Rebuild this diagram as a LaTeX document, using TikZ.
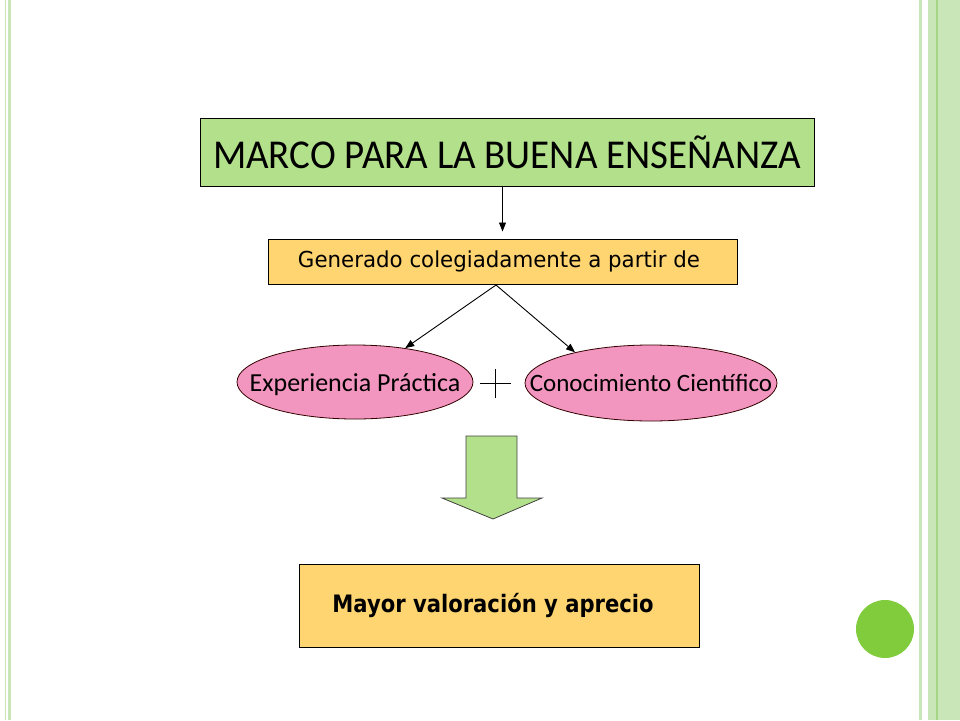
\documentclass[tikz,border=0pt]{standalone}
\usepackage{fontspec}
\setmainfont{Carlito}
\newfontfamily\titlefont[FakeStretch=0.95]{Carlito}
\newfontfamily\genfont[FakeStretch=0.97]{DejaVu Sans}
\newfontfamily\resfont[FakeStretch=0.88]{DejaVu Sans}
\usetikzlibrary{shapes.geometric,arrows.meta}

\definecolor{slidegreen}{HTML}{B3E08B}
\definecolor{slideorange}{HTML}{FFD571}
\definecolor{slidepink}{HTML}{F296C0}
\definecolor{stripe}{HTML}{C8E6B8}
\definecolor{stripedark}{HTML}{A3D585}
\definecolor{dotgreen}{HTML}{80CC3C}

\tikzset{
  greenbox/.style={draw=black, fill=slidegreen, line width=1pt, inner sep=0pt},
  orangebox/.style={draw=black, fill=slideorange, line width=1pt, inner sep=0pt},
  pinkoval/.style={ellipse, draw=black!80!red, fill=slidepink, line width=0.8pt, inner sep=0pt},
  conn/.style={line width=0.9pt, -{Triangle[length=9pt,width=7pt]}}
}

\begin{document}
\begin{tikzpicture}[x=1pt,y=-1pt]
    \useasboundingbox (0,0) rectangle (960,720);
    % Slide borders
    \fill[stripe] (5,0) rectangle (6,720);
    \fill[stripe] (8,0) rectangle (11,720);
    \fill[stripe] (919,0) rectangle (922,720);
    \fill[stripe] (928,0) rectangle (960,720);
    \fill[stripedark] (936,0) rectangle (937.5,720);
    \fill[dotgreen] (885,629) circle (29);

    % Boxes
    \node[greenbox, minimum width=614pt, minimum height=68pt] (title) at (507,152)
        {\titlefont\fontsize{41}{44}\selectfont MARCO PARA LA BUENA ENSEÑANZA};
    \node[orangebox, minimum width=469pt, minimum height=45pt] (gen) at (502.5,261.5)
        {\genfont\fontsize{22}{25}\selectfont\hspace*{-7pt}Generado colegiadamente a partir de};
    \node[pinkoval, minimum width=236pt, minimum height=74pt] (exp) at (355,382)
        {\makebox[0pt]{\fontsize{26}{29}\selectfont\raisebox{-9pt}[0pt][0pt]{Experiencia Práctica}}};
    \node[pinkoval, minimum width=252pt, minimum height=76pt] (con) at (651,383)
        {\makebox[0pt]{\fontsize{25}{28}\selectfont\raisebox{-8pt}[0pt][0pt]{Conocimiento Científico}}};
    \node[orangebox, minimum width=400pt, minimum height=83pt] (res) at (499,605.5)
        {\resfont\bfseries\fontsize{24}{28}\selectfont\hspace*{-12pt}Mayor valoración y aprecio};

    % Connectors
    \coordinate (split) at (496,285);
    \draw[conn, shorten >=7pt] (gen.north |- title.south) -- (gen.north);
    \draw[conn] (split) -- (exp.34);
    \draw[conn] (split) -- (con.158);

    % Plus sign
    \draw[line width=0.8pt] (495,369) -- (495,398);
    \draw[line width=0.8pt] (480,383) -- (511,383);

    % Block arrow
    \draw[fill=slidegreen, draw=black!75, line width=0.8pt]
        (466,436) -- (517,436) -- (517,498) -- (542,498) -- (493,519)
        -- (442,498) -- (466,498) -- cycle;
\end{tikzpicture}
\end{document}
